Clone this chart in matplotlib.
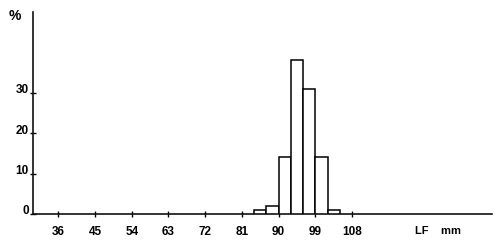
import matplotlib.pyplot as plt
import matplotlib.transforms as mtransforms

plt.rcParams['font.family'] = ['Liberation Sans', 'DejaVu Sans']

bin_left = [84, 87, 90, 93, 96, 99, 102]
percent = [1, 2, 14, 38, 31, 14, 1]
x_ticks = [36, 45, 54, 63, 72, 81, 90, 99, 108]
y_ticks = [0, 10, 20, 30]

fig = plt.figure(figsize=(5, 2.44), dpi=100)
ax = fig.add_axes([0.066, 0.123, 0.918, 0.828])

ax.bar(bin_left, percent, width=3, align='edge', color='white',
       edgecolor='black', linewidth=1.1, zorder=3)

ax.set_xlim(29.8, 142.3)
ax.set_ylim(0, 50)

for s in ['top', 'right']:
    ax.spines[s].set_visible(False)
for s in ['left', 'bottom']:
    ax.spines[s].set_linewidth(1.2)
    ax.spines[s].set_color('#111111')

ax.set_xticks(x_ticks)
ax.set_xticklabels([str(v) for v in x_ticks], fontsize=8.5, fontweight='bold')
ax.set_yticks(y_ticks)
ax.set_yticklabels([str(v) for v in y_ticks], fontsize=8.5, fontweight='bold')
ax.tick_params(axis='x', direction='inout', length=4, width=1, pad=6.5)
ax.tick_params(axis='y', direction='inout', length=5, width=1, pad=0.5)

# y labels sit a little above their ticks
offset = mtransforms.ScaledTranslation(0, 3 / 72, fig.dpi_scale_trans)
for lab in ax.get_yticklabels():
    lab.set_transform(lab.get_transform() + offset)

fig.text(14.5 / 500, 1 - 16 / 244, '%', fontsize=10, fontweight='bold',
         ha='center', va='center')
fig.text(415 / 500, 1 - 231 / 244, 'LF    mm', fontsize=8, fontweight='bold',
         ha='left', va='center')

fig.savefig('out.png', dpi=100)
